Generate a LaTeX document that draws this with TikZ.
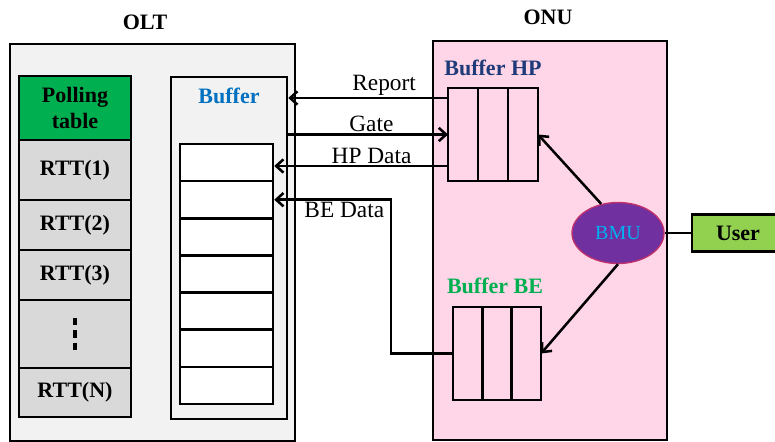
\documentclass[tikz,border=0pt]{standalone}
\usepackage{fontspec}
\setmainfont{Liberation Serif}
\usetikzlibrary{positioning}
\usetikzlibrary{shapes.geometric}
\usetikzlibrary{arrows.meta}
\tikzset{>={Straight Barb[length=5.5pt,width=10pt]}}
\definecolor{oltgray}{HTML}{F2F2F2}
\definecolor{rttgray}{HTML}{D9D9D9}
\definecolor{pollgreen}{HTML}{00B050}
\definecolor{bufblue}{HTML}{0070C0}
\definecolor{onupink}{HTML}{FFD6E8}
\definecolor{hpnavy}{HTML}{1F3A78}
\definecolor{bmupurple}{HTML}{7030A0}
\definecolor{bmuedge}{HTML}{C0306A}
\definecolor{bmutext}{HTML}{00B0F0}
\definecolor{usergreen}{HTML}{92D050}

\begin{document}
\begin{tikzpicture}[x=0.75pt, y=-0.75pt]
    \tikzset{title/.style = {font=\fontsize{16.5}{19.5}\selectfont\bfseries},
             msg/.style = {font=\fontsize{17.5}{20}\selectfont, inner sep=1pt},
             entry/.style = {draw, line width=1.9pt, outer sep=0pt, fill=rttgray, minimum width=84pt, title},
             cell/.style = {draw, line width=1.9pt, fill=white, minimum width=69.75pt, minimum height=27.75pt},
             slot/.style = {draw, line width=1.9pt, outer sep=0pt, minimum width=22.5pt, minimum height=69.75pt, inner sep=0pt},
             link/.style = {line width=1.9pt}}
    \useasboundingbox (0, 0) rectangle (775, 442);
    % OLT
    \node[draw, line width=1pt, fill=oltgray, minimum width=213.75pt, minimum height=297.75pt] (olt) at (152.5, 242.5) {};
    \node[title] (oltname) at (145, 22) {OLT};
    \node[entry, fill=pollgreen, minimum height=48pt, align=center] (poll) at (75, 108) {Polling\\table};
    \node[entry, minimum height=45pt, below=0pt of poll] (rtt1) {RTT(1)};
    \node[entry, minimum height=37.5pt, below=0pt of rtt1] (rtt2) {RTT(2)};
    \node[entry, minimum height=37.5pt, below=0pt of rtt2] (rtt3) {RTT(3)};
    \node[entry, minimum height=51pt, below=0pt of rtt3] (dots) {};
    \node[entry, minimum height=36.75pt, below=0pt of dots] (rttN) {RTT(N)};
    \draw[line width=2.4pt, dash pattern=on 5.5pt off 3.75pt] ([yshift=-13.5pt]dots.north) -- ([yshift=12.75pt]dots.south);
    \node[draw, line width=1.9pt, fill=oltgray, minimum width=87pt, minimum height=256.5pt] (buf) at (229, 248) {};
    \node[title, text=bufblue] (bufname) at (229, 96) {Buffer};
    \foreach \i in {1,...,7}
        \node[cell] (cell\i) at (226.5, {125.43 + 37.14*\i}) {};
    % ONU
    \node[draw, line width=1.2pt, fill=onupink, minimum width=175.5pt, minimum height=299.25pt] (onu) at (550, 240.5) {};
    \node[title] (onuname) at (548, 17) {ONU};
    \node[title, text=hpnavy] (hpname) at (493, 68) {Buffer HP};
    \node[slot] (hp1) at (463, 134.5) {};
    \node[slot, right=0pt of hp1] (hp2) {};
    \node[slot, right=0pt of hp2] (hp3) {};
    \node[title, text=pollgreen] (bename) at (495, 286) {Buffer BE};
    \node[slot, minimum width=22pt] (be1) at (467.7, 353.5) {};
    \node[slot, minimum width=22pt, right=0pt of be1] (be2) {};
    \node[slot, minimum width=22pt, right=0pt of be2] (be3) {};
    \node[ellipse, draw=bmuedge, line width=1pt, fill=bmupurple, text=bmutext, minimum width=69pt, minimum height=45.75pt, font=\fontsize{15}{18}\selectfont] (bmu) at (618, 233) {BMU};
    \node[draw, line width=1.9pt, fill=usergreen, minimum width=69pt, minimum height=27.75pt, title] (user) at (738, 233) {User};
    % messages
    \coordinate (rep) at ([yshift=-7.5pt]hp1.north west);
    \coordinate (hpd) at ([yshift=11.25pt]hp1.south west);
    \draw[link, ->] (rep) -- node[msg, above, pos=0.4] {Report} (rep -| buf.east);
    \draw[link, ->] (buf.east |- hp1.west) -- node[msg, above, pos=0.52] {Gate} (hp1.west);
    \draw[link, ->] (hpd) -- node[msg, above, pos=0.44] {HP Data} (hpd -| cell1.east);
    \draw[link, ->] (be1.west) -- ++(-62, 0) |- node[msg, below, pos=0.7] {BE Data} (cell2.east);
    \draw[link, ->] (bmu.120) -- (hp3.east);
    \draw[link, ->] (bmu.south) -- (be3.east);
    \draw[link] (bmu.east) -- (user.west);
\end{tikzpicture}
\end{document}
